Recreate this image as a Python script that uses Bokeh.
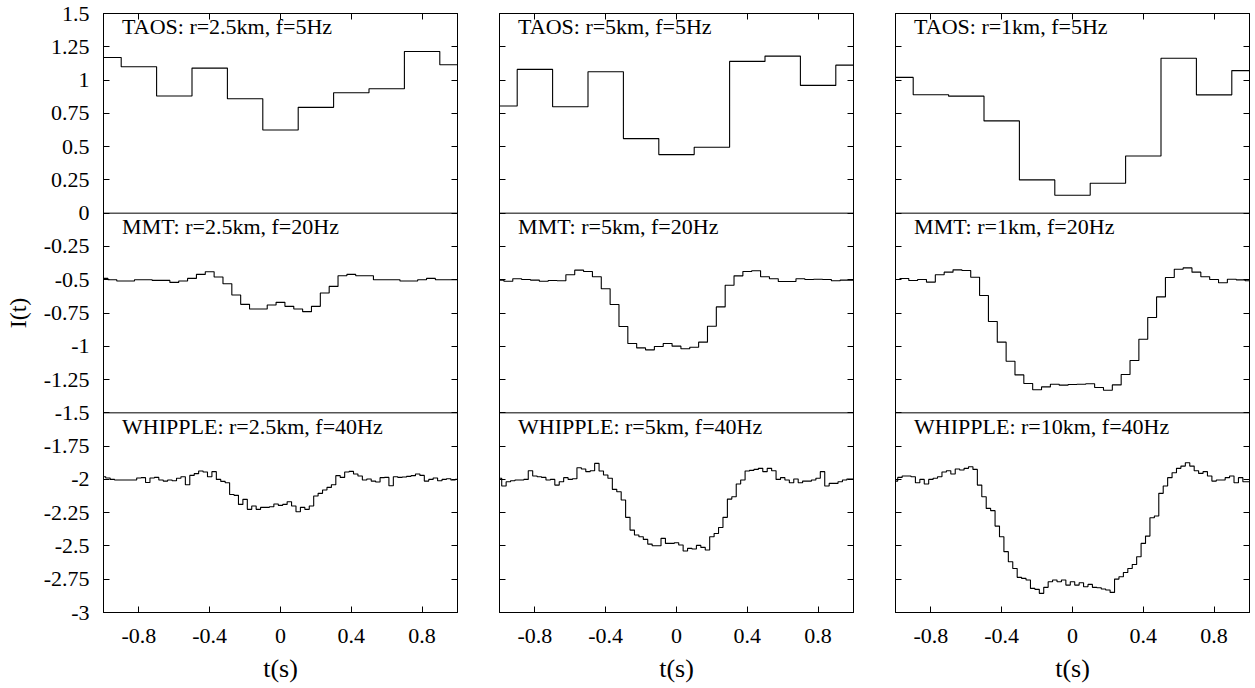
import numpy as np
from bokeh.plotting import figure
from bokeh.layouts import row
from bokeh.models import LinearAxis, FixedTicker, Span, Range1d, ColumnDataSource
from bokeh.core.properties import value
from bokeh.embed import file_html
from bokeh.resources import INLINE

FONT = "Liberation Serif"
AXFONT = "'Liberation Serif', 'Times New Roman', serif"

# ---------------- data ----------------
y_ticks = [1.5, 1.25, 1.0, 0.75, 0.5, 0.25, 0.0, -0.25, -0.5, -0.75, -1.0,
           -1.25, -1.5, -1.75, -2.0, -2.25, -2.5, -2.75, -3.0]
x_ticks = [-0.8, -0.4, 0.0, 0.4, 0.8]

# sample times (bin centres) for the three cadences
t_taos = [-1.0, -0.8, -0.6, -0.4, -0.2, 0.0, 0.2, 0.4, 0.6, 0.8, 1.0]   # 5 Hz
t_mmt = np.round(np.linspace(-1.0, 1.0, 41), 3)                          # 20 Hz
t_whipple = np.round(np.linspace(-1.0, 1.0, 81), 4)                      # 40 Hz

# TAOS (offset +1)
taos_a = [1.17, 1.10, 0.88, 1.09, 0.86, 0.625, 0.795, 0.905, 0.935, 1.215, 1.115]
taos_b = [0.805, 1.08, 0.80, 1.062, 0.56, 0.44, 0.495, 1.14, 1.18, 0.96, 1.112]
taos_c = [1.02, 0.89, 0.879, 0.693, 0.25, 0.135, 0.225, 0.43, 1.164, 0.889, 1.071]

# MMT (offset -0.5)
mmt_a = [-0.49, -0.50, -0.51, -0.51, -0.50, -0.50, -0.505, -0.505, -0.52, -0.51,
         -0.49, -0.46, -0.44, -0.48, -0.53, -0.615, -0.685, -0.72, -0.72, -0.69,
         -0.67, -0.70, -0.72, -0.74, -0.70, -0.60, -0.55, -0.47, -0.46, -0.47,
         -0.47, -0.50, -0.50, -0.50, -0.51, -0.51, -0.50, -0.49, -0.50, -0.50, -0.50]
mmt_b = [-0.503, -0.511, -0.493, -0.498, -0.503, -0.511, -0.506, -0.508, -0.463, -0.428,
         -0.438, -0.478, -0.568, -0.686, -0.851, -0.979, -1.012, -1.027, -1.002, -0.979,
         -0.999, -1.019, -1.007, -0.969, -0.849, -0.704, -0.541, -0.471, -0.438, -0.433,
         -0.478, -0.493, -0.513, -0.513, -0.493, -0.498, -0.496, -0.498, -0.508, -0.503, -0.503]
mmt_c = [-0.498, -0.491, -0.506, -0.498, -0.518, -0.463, -0.443, -0.426, -0.431, -0.481,
         -0.619, -0.814, -0.969, -1.112, -1.215, -1.280, -1.327, -1.305, -1.285, -1.292,
         -1.287, -1.285, -1.282, -1.310, -1.330, -1.290, -1.212, -1.107, -0.947, -0.784,
         -0.629, -0.483, -0.421, -0.411, -0.443, -0.478, -0.498, -0.523, -0.496, -0.501, -0.508]

# WHIPPLE (offset -2)
whip_a = [-1.98, -1.99, -2.0, -2.005, -2.005, -2.005, -2.005, -2.005, -1.99, -1.987,
          -2.023, -1.99, -1.985, -2.005, -2.013, -2.005, -2.01, -1.992, -1.98, -2.04,
          -1.97, -1.957, -1.937, -1.945, -1.98, -1.942, -2.0, -2.015, -2.025, -2.113,
          -2.12, -2.188, -2.15, -2.225, -2.2, -2.225, -2.21, -2.21, -2.205, -2.185,
          -2.195, -2.188, -2.168, -2.2, -2.243, -2.21, -2.225, -2.2, -2.125, -2.105,
          -2.08, -2.06, -2.04, -1.972, -1.985, -1.945, -1.94, -1.96, -1.975, -2.005,
          -1.997, -2.013, -2.02, -1.987, -1.985, -2.048, -1.98, -1.985, -1.982, -1.977,
          -1.972, -1.96, -1.97, -2.013, -2.0, -1.99, -2.01, -2.0, -1.995, -2.005, -2.0]
whip_b = [-1.992, -2.05, -2.018, -2.01, -2.005, -2.005, -2.0, -1.935, -1.975, -1.98,
          -1.985, -2.005, -2.0, -2.043, -2.018, -1.987, -2.0, -1.995, -1.912, -1.922,
          -1.942, -1.935, -1.88, -1.937, -1.967, -1.992, -2.075, -2.093, -2.155, -2.285,
          -2.381, -2.418, -2.431, -2.451, -2.486, -2.498, -2.498, -2.443, -2.481, -2.481,
          -2.476, -2.493, -2.538, -2.518, -2.523, -2.496, -2.511, -2.531, -2.431, -2.406,
          -2.361, -2.285, -2.148, -2.13, -2.035, -2.005, -1.937, -1.932, -1.925, -1.917,
          -1.942, -1.917, -1.935, -2.0, -1.987, -2.005, -2.025, -1.997, -2.025, -2.013,
          -2.013, -2.005, -1.992, -1.942, -2.05, -2.03, -2.03, -2.018, -2.005, -1.997, -1.997]
whip_c = [-2.013, -1.985, -1.975, -1.975, -1.98, -2.025, -2.0, -2.035, -2.0, -1.992,
          -1.98, -1.945, -1.935, -1.96, -1.922, -1.93, -1.917, -1.905, -1.925, -2.043,
          -2.13, -2.218, -2.235, -2.351, -2.431, -2.543, -2.619, -2.669, -2.736, -2.744,
          -2.756, -2.819, -2.826, -2.856, -2.811, -2.769, -2.756, -2.769, -2.756, -2.794,
          -2.769, -2.794, -2.776, -2.806, -2.789, -2.811, -2.814, -2.824, -2.831, -2.849,
          -2.749, -2.731, -2.699, -2.669, -2.639, -2.581, -2.481, -2.426, -2.288, -2.275,
          -2.105, -2.05, -1.987, -1.95, -1.917, -1.9, -1.875, -1.9, -1.935, -1.955,
          -1.942, -1.975, -2.013, -2.005, -2.005, -1.987, -1.975, -2.025, -1.987, -2.018, -2.018]

labels_a = ["TAOS: r=2.5km, f=5Hz", "MMT: r=2.5km, f=20Hz", "WHIPPLE: r=2.5km, f=40Hz"]
labels_b = ["TAOS: r=5km, f=5Hz", "MMT: r=5km, f=20Hz", "WHIPPLE: r=5km, f=40Hz"]
labels_c = ["TAOS: r=1km, f=5Hz", "MMT: r=1km, f=20Hz", "WHIPPLE: r=10km, f=40Hz"]
label_y = [1.4, -0.1, -1.6]
separators = [0.0, -1.5]

panels = [
    dict(taos=taos_a, mmt=mmt_a, whip=whip_a, labels=labels_a, width=478, left=103, right=21, first=True),
    dict(taos=taos_b, mmt=mmt_b, whip=whip_b, labels=labels_b, width=396, left=21, right=21, first=False),
    dict(taos=taos_c, mmt=mmt_c, whip=whip_c, labels=labels_c, width=381, left=21, right=6, first=False),
]


def style_axis(ax, ticks, show_labels, standoff=14):
    ax.ticker = FixedTicker(ticks=ticks)
    ax.major_tick_in = 6
    ax.major_tick_out = 0
    ax.minor_tick_line_color = None
    ax.axis_line_color = "black"
    ax.major_tick_line_color = "black"
    ax.major_label_text_font = AXFONT
    ax.major_label_text_color = "black"
    if show_labels:
        ax.major_label_overrides = {v: f"{v:g}" for v in ticks}
        ax.major_label_text_font_size = "22px"
        ax.major_label_standoff = standoff
    else:
        ax.major_label_overrides = {v: "" for v in ticks}
        ax.major_label_text_font_size = "1px"
        ax.major_label_standoff = 0


figs = []
for cfg in panels:
    p = figure(width=cfg["width"], height=688,
               x_range=Range1d(-1, 1), y_range=Range1d(-3, 1.5),
               output_backend="svg", toolbar_location=None,
               min_border_left=cfg["left"], min_border_right=cfg["right"],
               min_border_top=13, min_border_bottom=76)
    p.xgrid.visible = False
    p.ygrid.visible = False
    p.outline_line_color = "black"
    p.outline_line_width = 1
    p.background_fill_color = "white"

    style_axis(p.xaxis[0], x_ticks, True, standoff=16)
    p.xaxis[0].axis_label = "t(s)"
    p.xaxis[0].axis_label_text_font = AXFONT
    p.xaxis[0].axis_label_text_font_size = "26px"
    p.xaxis[0].axis_label_text_font_style = "normal"
    p.xaxis[0].axis_label_text_color = "black"
    p.xaxis[0].axis_label_standoff = 8

    style_axis(p.yaxis[0], y_ticks, cfg["first"], standoff=14)
    if cfg["first"]:
        p.yaxis[0].axis_label = "I(t)"
        p.yaxis[0].axis_label_text_font = AXFONT
        p.yaxis[0].axis_label_text_font_size = "24px"
        p.yaxis[0].axis_label_text_font_style = "normal"
        p.yaxis[0].axis_label_text_color = "black"
        p.yaxis[0].axis_label_standoff = 10

    top = LinearAxis()
    style_axis(top, x_ticks, False)
    p.add_layout(top, "above")
    right = LinearAxis()
    style_axis(right, y_ticks, False)
    p.add_layout(right, "right")

    for s in separators:
        p.add_layout(Span(location=s, dimension="width", line_color="black", line_width=1))

    p.step(t_taos, cfg["taos"], mode="center", line_color="black", line_width=1.1)
    p.step(t_mmt, cfg["mmt"], mode="center", line_color="black", line_width=1.1)
    p.step(t_whipple, cfg["whip"], mode="center", line_color="black", line_width=1.1)

    src = ColumnDataSource(dict(x=[-0.895] * 3, y=label_y, text=cfg["labels"]))
    p.text(x="x", y="y", text="text", source=src, text_font=value(FONT),
           text_font_size="22px", text_baseline="middle", text_align="left",
           text_color="black")
    figs.append(p)

layout = row(*figs, spacing=0)
open("out.html", "w").write(file_html(layout, INLINE))
